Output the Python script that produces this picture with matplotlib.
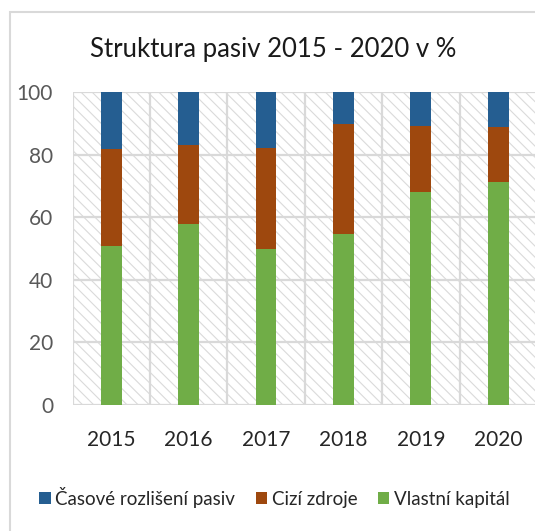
import numpy as np
import matplotlib
matplotlib.use("Agg")
import matplotlib.pyplot as plt
from matplotlib.patches import Rectangle

years = ["2015", "2016", "2017", "2018", "2019", "2020"]
vlastni_kapital = [50.8, 58.0, 50.0, 54.7, 68.0, 71.2]
cizi_zdroje = [31.0, 25.1, 32.2, 35.3, 21.3, 17.7]
casove_rozliseni = [18.2, 16.9, 17.8, 10.0, 10.7, 11.1]

c_blue = "#255E91"
c_brown = "#9E480E"
c_green = "#70AD47"
grid_c = "#d9d9d9"
text_c = "#595959"

plt.rcParams['font.family'] = ['Lato', 'DejaVu Sans']
plt.rcParams['hatch.linewidth'] = 0.8

fig = plt.figure(figsize=(5.35, 5.31), dpi=100)
ax = fig.add_axes([72.5 / 535, 1 - 405 / 531, 464.5 / 535, (405 - 92.3) / 531])

# chart border (only left/top visible, rest is cropped)
fig.patches.append(Rectangle((10 / 535, -0.1), 1.2, 1.1 - 12 / 531,
                             transform=fig.transFigure, fill=False,
                             edgecolor=grid_c, linewidth=1.5, zorder=-1))

# hatched plot area background
ax.add_patch(Rectangle((0, 0), 1, 1, transform=ax.transAxes, facecolor='white',
                       edgecolor='#dadada', hatch='\\' * 3, linewidth=0, zorder=0))

x = np.arange(len(years))
w = 0.27
ax.bar(x, vlastni_kapital, w, color=c_green, label='Vlastní kapitál', zorder=2)
ax.bar(x, cizi_zdroje, w, bottom=vlastni_kapital, color=c_brown, label='Cizí zdroje', zorder=2)
bottom2 = np.array(vlastni_kapital) + np.array(cizi_zdroje)
ax.bar(x, casove_rozliseni, w, bottom=bottom2, color=c_blue,
       label='Časové rozlišení pasiv', zorder=2)

ax.set_xlim(-0.5, len(years) - 0.5)
ax.set_ylim(0, 100)
ax.set_yticks(range(0, 101, 20))
ax.set_xticks(x)
ax.set_xticklabels(years)
ax.set_xticks(np.arange(-0.5, len(years), 1), minor=True)

ax.grid(True, which='major', axis='y', color=grid_c, linewidth=1.6, zorder=1)
ax.grid(True, which='minor', axis='x', color=grid_c, linewidth=1.6, zorder=1)
ax.grid(False, which='major', axis='x')
for s in ax.spines.values():
    s.set_visible(False)
ax.tick_params(axis='both', which='both', length=0)
ax.tick_params(axis='y', labelsize=15, labelcolor=text_c, pad=14)
ax.tick_params(axis='x', labelsize=15, labelcolor='#262626', pad=18)

fig.text(0.51, 1 - 50 / 531, "Struktura pasiv 2015 - 2020 v %", ha='center', va='center',
         fontsize=18.5, color='#1a1a1a')

h, l = ax.get_legend_handles_labels()
fig.legend(h[::-1], l[::-1], loc='center', bbox_to_anchor=(0.513, 1 - 497 / 531), ncol=3,
           frameon=False, fontsize=13.5, handlelength=0.6, handleheight=0.6,
           handletextpad=0.25, columnspacing=1.1, labelcolor='#262626')

fig.savefig("out.png", dpi=100)
